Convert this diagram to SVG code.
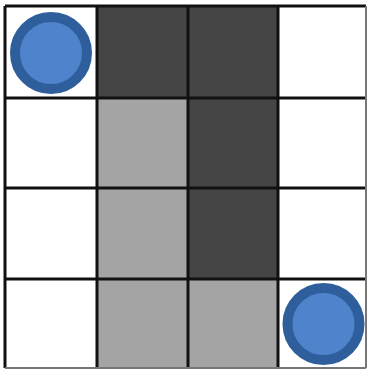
<svg xmlns="http://www.w3.org/2000/svg" width="368" height="369" viewBox="0 0 368 369">
<style>
.dark{fill:#454545}
.light{fill:#a4a4a4}
.grid{stroke:#111;stroke-width:3;fill:none}
.edge{stroke:#777;stroke-width:2;fill:none}
.piece{fill:#4f84cc;stroke:#2f5e9c;stroke-width:10}
</style>
<rect width="368" height="369" fill="#fff"/>
<g id="cells">
<rect class="dark" x="97" y="6" width="91" height="92"/>
<rect class="dark" x="188" y="6" width="90" height="92"/>
<rect class="dark" x="188" y="98" width="90" height="90"/>
<rect class="dark" x="188" y="188" width="90" height="91"/>
<rect class="light" x="97" y="98" width="91" height="90"/>
<rect class="light" x="97" y="188" width="91" height="91"/>
<rect class="light" x="97" y="279" width="91" height="89"/>
<rect class="light" x="188" y="279" width="90" height="89"/>
</g>
<g id="grid">
<path class="grid" d="M5 6V368M97 6V368M188 6V368M278 6V368"/>
<path class="grid" d="M5 6H366M5 98H366M5 188H366M5 279H366"/>
<path class="edge" d="M366 6V368M5 368H366"/>
</g>
<g id="piece1"><circle class="piece" cx="51" cy="53" r="36"/></g>
<g id="piece2"><circle class="piece" cx="323.5" cy="324" r="36"/></g>
</svg>
